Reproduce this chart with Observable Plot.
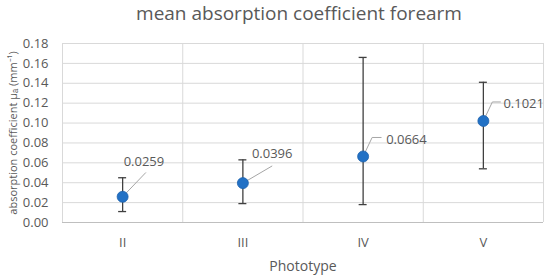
<!DOCTYPE html>
<html><head><meta charset="utf-8">
<script src="https://cdn.jsdelivr.net/npm/d3@7"></script>
<script src="https://cdn.jsdelivr.net/npm/@observablehq/plot@0.6"></script>
<style>
body{margin:0;background:#fff;}
</style></head><body>
<div id="chart"></div>
<script>
const categories = ["II", "III", "IV", "V"];
const means = [0.0259, 0.0396, 0.0664, 0.1021];
const lows = [0.011, 0.019, 0.018, 0.054];
const highs = [0.045, 0.063, 0.166, 0.141];
const yTicks = [0, 0.02, 0.04, 0.06, 0.08, 0.10, 0.12, 0.14, 0.16, 0.18];
const title = "mean absorption coefficient forearm";
const xLabel = "Phototype";
const yLabel = "absorption coefficient μₐ (mm⁻¹)";

// layout (pixels)
const W = 550, H = 278, mL = 62, mR = 7, mT = 43, mB = 56;
const kx = categories.length / (W - mL - mR);
const ky = 0.18 / (H - mT - mB);
const labelPx = [[1, -35], [9, -29], [23, -17], [20, -17]];
const leaderPx = [[[23, -24]], [[29, -17]], [[9, -19], [18, -19]], [[9, -19], [17, -19]]];
const capHalf = 4 * kx;

const rows = categories.map((c, i) => ({i, c, mean: means[i], low: lows[i], high: highs[i]}));
const bounds = categories.map((_, i) => i - 0.5).concat([categories.length - 0.5]);
const leaders = rows.flatMap(r => [[0, 0], ...leaderPx[r.i]].map(([dx, dy]) => ({i: r.i, x: r.i + dx * kx, y: r.mean - dy * ky})));
const labels = rows.map(r => ({x: r.i + labelPx[r.i][0] * kx, y: r.mean - labelPx[r.i][1] * ky, t: r.mean.toFixed(4)}));

const gray = "#595959";
const chart = Plot.plot({
  width: W, height: H,
  marginLeft: mL, marginRight: mR, marginTop: mT, marginBottom: mB,
  style: {fontFamily: "'Open Sans', sans-serif", fontSize: "13px", color: gray, background: "#fff", overflow: "visible"},
  x: {type: "linear", domain: [-0.5, categories.length - 0.5], ticks: categories.map((_, i) => i), tickFormat: i => categories[i], tickSize: 0, tickPadding: 15, label: null},
  y: {domain: [0, 0.18], ticks: yTicks, tickFormat: d => d.toFixed(2), tickSize: 0, tickPadding: 14, label: null},
  marks: [
    Plot.ruleY(yTicks, {stroke: "#d9d9d9", strokeWidth: 1}),
    Plot.ruleX(bounds, {stroke: "#d9d9d9", strokeWidth: 1}),
    Plot.ruleY([0], {stroke: "#bfbfbf", strokeWidth: 1}),
    Plot.ruleX(rows, {x: "i", y1: "low", y2: "high", stroke: "#404040", strokeWidth: 1.3}),
    Plot.ruleY(rows, {y: "low", x1: d => d.i - capHalf, x2: d => d.i + capHalf, stroke: "#404040", strokeWidth: 1.3}),
    Plot.ruleY(rows, {y: "high", x1: d => d.i - capHalf, x2: d => d.i + capHalf, stroke: "#404040", strokeWidth: 1.3}),
    Plot.line(leaders, {x: "x", y: "y", z: "i", stroke: "#a6a6a6", strokeWidth: 1, curve: "linear"}),
    Plot.dot(rows, {x: "i", y: "mean", r: 5.5, fill: "#2271c5", stroke: "#1d62ad", strokeWidth: 0.8}),
    Plot.text(labels, {x: "x", y: "y", text: "t", textAnchor: "start", lineAnchor: "middle", fill: gray, fontSize: 13}),
    Plot.text([title], {frameAnchor: "top", dx: -4, dy: -30, textAnchor: "middle", lineAnchor: "middle", fill: gray, fontSize: 19}),
    Plot.text([xLabel], {frameAnchor: "bottom", dy: 44, textAnchor: "middle", lineAnchor: "middle", fill: gray, fontSize: 14}),
    Plot.text([yLabel], {frameAnchor: "left", dx: -49, rotate: -90, textAnchor: "middle", lineAnchor: "middle", fill: gray, fontSize: 11})
  ]
});
document.getElementById("chart").appendChild(chart);
</script>
</body></html>
